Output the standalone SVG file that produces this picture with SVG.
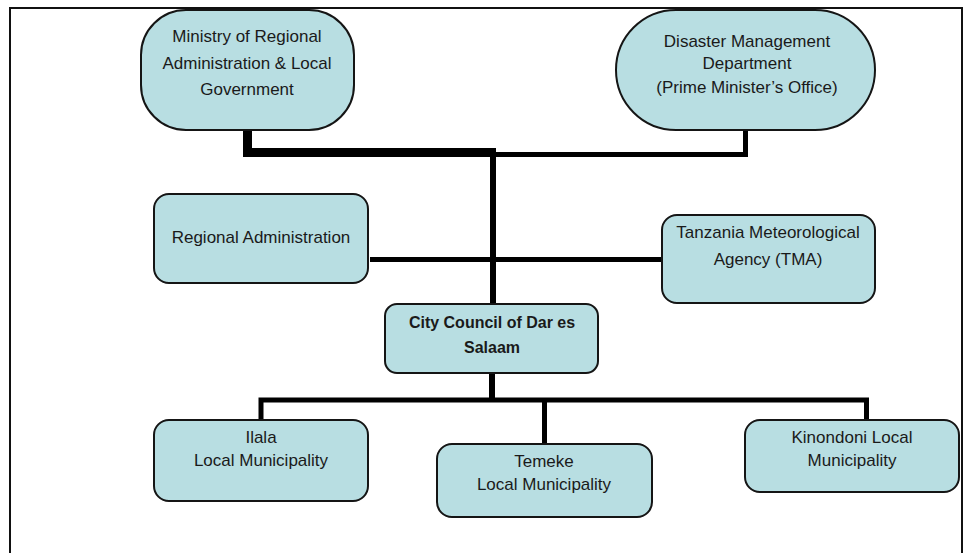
<svg xmlns="http://www.w3.org/2000/svg" width="966" height="553" viewBox="0 0 966 553">
<style>
.box{fill:#b8dee2;stroke:#151515;stroke-width:2}
.t{font-family:"Liberation Sans",Arial,sans-serif;font-size:17px;fill:#1a1a1a;text-anchor:middle}
.b{font-weight:bold;font-size:16px}
.c{stroke:#000;fill:none;stroke-linecap:butt;stroke-linejoin:miter}
</style>
<rect x="0" y="0" width="966" height="553" fill="#fff"/>
<rect x="10" y="8" width="952" height="600" fill="none" stroke="#111" stroke-width="2"/>
<g id="connectors">
<path class="c" d="M247.5 130 V152.5 H493" stroke-width="9"/>
<path class="c" d="M490 154.5 H745.5 V130" stroke-width="5"/>
<path class="c" d="M493 148 V304" stroke-width="6"/>
<path class="c" d="M370 259.5 H662" stroke-width="5"/>
<path class="c" d="M492 373 V400" stroke-width="6"/>
<path class="c" d="M261 420 V400 H866.5 V420" stroke-width="5"/>
<path class="c" d="M544.5 400 V444" stroke-width="5"/>
</g>
<g id="ministry">
<rect class="box" x="141" y="10" width="213" height="120" rx="45" ry="45"/>
<text class="t" x="247" y="42">Ministry of Regional</text>
<text class="t" x="247" y="69">Administration &amp; Local</text>
<text class="t" x="247" y="95">Government</text>
</g>
<g id="disaster">
<rect class="box" x="616" y="10" width="259" height="120" rx="60" ry="60"/>
<text class="t" x="747" y="47">Disaster Management</text>
<text class="t" x="747" y="69">Department</text>
<text class="t" x="747" y="93">(Prime Minister’s Office)</text>
</g>
<g id="regional">
<rect class="box" x="154" y="194" width="214" height="89" rx="15" ry="15"/>
<text class="t" x="261" y="243">Regional Administration</text>
</g>
<g id="tma">
<rect class="box" x="662" y="215" width="213" height="88" rx="15" ry="15"/>
<text class="t" x="768" y="238">Tanzania Meteorological</text>
<text class="t" x="768" y="265">Agency (TMA)</text>
</g>
<g id="city">
<rect class="box" x="385" y="304" width="213" height="69" rx="12" ry="12"/>
<text class="t b" x="492" y="328">City Council of Dar es</text>
<text class="t b" x="492" y="353">Salaam</text>
</g>
<g id="ilala">
<rect class="box" x="154" y="420" width="214" height="81" rx="15" ry="15"/>
<text class="t" x="261" y="443">Ilala</text>
<text class="t" x="261" y="466">Local Municipality</text>
</g>
<g id="temeke">
<rect class="box" x="437" y="444" width="215" height="73" rx="15" ry="15"/>
<text class="t" x="544" y="467">Temeke</text>
<text class="t" x="544" y="490">Local Municipality</text>
</g>
<g id="kinondoni">
<rect class="box" x="745" y="420" width="214" height="72" rx="15" ry="15"/>
<text class="t" x="852" y="443">Kinondoni Local</text>
<text class="t" x="852" y="466">Municipality</text>
</g>
</svg>
